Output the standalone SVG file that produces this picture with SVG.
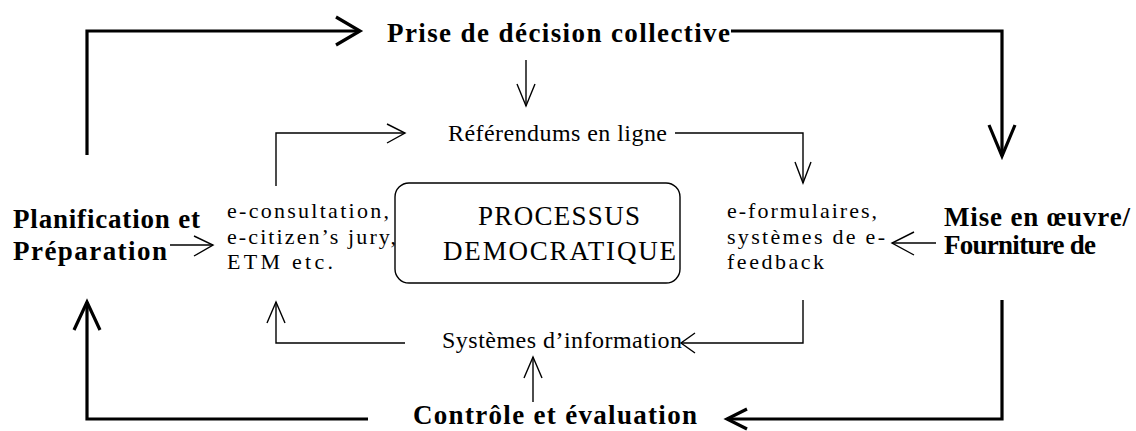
<svg xmlns="http://www.w3.org/2000/svg" width="1136" height="431" viewBox="0 0 1136 431">
<style>
.b{font-family:"Liberation Serif","Times New Roman",serif;font-weight:bold;font-size:27px;fill:#000}
.r{font-family:"Liberation Serif","Times New Roman",serif;font-size:24px;fill:#000}
.s{font-family:"Liberation Serif","Times New Roman",serif;font-size:22px;fill:#000}
.c{font-family:"Liberation Serif","Times New Roman",serif;font-size:27px;fill:#000}
.thick{fill:none;stroke:#000;stroke-width:3.2}
.thin{fill:none;stroke:#000;stroke-width:1.4}
</style>
<rect width="1136" height="431" fill="#fff"/>
<g id="connectors">
  <path class="thick" d="M87,155 V31 H360"/>
  <path class="thick" d="M336,17 L360,31 L336,45"/>
  <path class="thick" d="M731,31 H1002 V156"/>
  <path class="thick" d="M989,125 L1002,156 L1015,125"/>
  <path class="thick" d="M1002,300 V419 H727"/>
  <path class="thick" d="M747,409 L727,419 L747,429"/>
  <path class="thick" d="M368,419 H87 V302"/>
  <path class="thick" d="M74,330 L87,302 L100,330"/>
  <path class="thin" d="M526,60 V106"/>
  <path class="thin" d="M517,84 L526,106 L535,84"/>
  <path class="thin" d="M276,186 V133 H405"/>
  <path class="thin" d="M387,124 L405,133 L387,143"/>
  <path class="thin" d="M675,133 H803 V183"/>
  <path class="thin" d="M795,162 L803,183 L811,162"/>
  <path class="thin" d="M170,245 H213"/>
  <path class="thin" d="M194,236 L213,245 L194,256"/>
  <path class="thin" d="M936,243 H892"/>
  <path class="thin" d="M914,232 L892,243 L914,255"/>
  <path class="thin" d="M803,300 V343 H681"/>
  <path class="thin" d="M695,333 L681,343 L695,353"/>
  <path class="thin" d="M405,343 H276 V302"/>
  <path class="thin" d="M267,323 L276,302 L285,323"/>
  <path class="thin" d="M533,402 V357"/>
  <path class="thin" d="M524,378 L533,357 L542,378"/>
</g>
<g id="prise"><text class="b" x="387" y="42" textLength="343" lengthAdjust="spacing">Prise de décision collective</text></g>
<g id="referendums"><text class="r" x="448" y="141" textLength="219" lengthAdjust="spacing">Référendums en ligne</text></g>
<g id="planification">
  <text class="b" x="13" y="228" textLength="187" lengthAdjust="spacing">Planification et</text>
  <text class="b" x="13" y="260" textLength="154" lengthAdjust="spacing">Préparation</text>
</g>
<g id="econsultation">
  <text class="s" x="227" y="218" textLength="162" lengthAdjust="spacing">e-consultation,</text>
  <text class="s" x="227" y="243.5" textLength="169" lengthAdjust="spacing">e-citizen’s jury,</text>
  <text class="s" x="227" y="269" textLength="106" lengthAdjust="spacing">ETM etc.</text>
</g>
<g id="processus">
  <rect x="395" y="183" width="285" height="100" rx="14" ry="14" fill="none" stroke="#000" stroke-width="1.4"/>
  <text class="c" x="478" y="225" textLength="162" lengthAdjust="spacing">PROCESSUS</text>
  <text class="c" x="443" y="260" textLength="233" lengthAdjust="spacing">DEMOCRATIQUE</text>
</g>
<g id="eformulaires">
  <text class="s" x="727" y="218" textLength="150" lengthAdjust="spacing">e-formulaires,</text>
  <text class="s" x="727" y="243.5" textLength="158" lengthAdjust="spacing">systèmes de e-</text>
  <text class="s" x="727" y="269" textLength="97" lengthAdjust="spacing">feedback</text>
</g>
<g id="mise">
  <text class="b" x="944" y="226" textLength="186" lengthAdjust="spacing">Mise en œuvre/</text>
  <text class="b" x="944" y="254" textLength="152" lengthAdjust="spacing">Fourniture de</text>
</g>
<g id="systemes"><text class="r" x="442" y="348" textLength="240" lengthAdjust="spacing">Systèmes d’information</text></g>
<g id="controle"><text class="b" x="413" y="424" textLength="284" lengthAdjust="spacing">Contrôle et évaluation</text></g>
</svg>
